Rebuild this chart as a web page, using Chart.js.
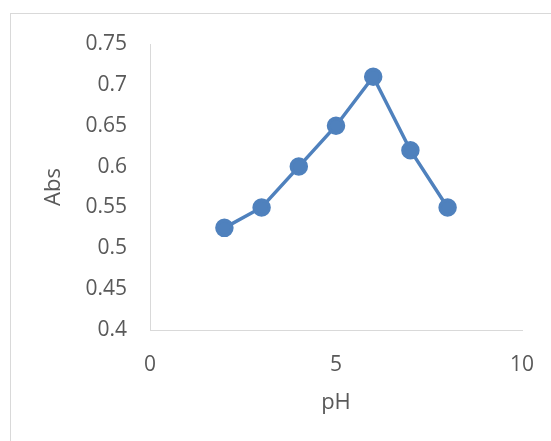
<!DOCTYPE html>
<html>
<head>
<meta charset="utf-8">
<script src="https://cdn.jsdelivr.net/npm/chart.js@4"></script>
<style>
  html, body { margin: 0; padding: 0; background: #fff; }
  #wrap { position: relative; width: 551px; height: 441px; overflow: hidden; }
  #frame { position: absolute; left: 10px; top: 13px; width: 600px; height: 500px;
           border-left: 1px solid #d9d9d9; border-top: 1px solid #d9d9d9; }
  #chart { position: absolute; left: 0; top: 0; }
</style>
</head>
<body>
<div id="wrap">
  <div id="frame"></div>
  <canvas id="chart" width="551" height="441"></canvas>
</div>
<script>
  // datos
  const valoresPH = [2, 3, 4, 5, 6, 7, 8];
  const valoresAbs = [0.525, 0.55, 0.6, 0.65, 0.71, 0.62, 0.55];
  const ticksX = [0, 5, 10];
  const ticksY = [0.4, 0.45, 0.5, 0.55, 0.6, 0.65, 0.7, 0.75];

  const colorSerie = '#4f81bd';
  const colorTexto = '#595959';
  const colorEje = '#d9d9d9';
  const fuente = '"Open Sans", sans-serif';

  const puntos = valoresPH.map((x, i) => ({ x: x, y: valoresAbs[i] }));

  new Chart(document.getElementById('chart'), {
    type: 'scatter',
    data: {
      datasets: [{
        label: 'Abs',
        data: puntos,
        showLine: true,
        borderColor: colorSerie,
        backgroundColor: colorSerie,
        borderWidth: 3.5,
        pointRadius: 7.5,
        pointHoverRadius: 7.5
      }]
    },
    options: {
      responsive: false,
      animation: false,
      layout: { padding: { left: 0, top: 44, right: 29, bottom: 0 } },
      plugins: { legend: { display: false }, tooltip: { enabled: false } },
      scales: {
        x: {
          type: 'linear',
          min: 0,
          max: 10,
          afterBuildTicks: axis => { axis.ticks = ticksX.map(v => ({ value: v })); },
          afterFit: axis => { axis.height = 111; axis.paddingLeft = 0; axis.paddingRight = 0; },
          grid: { display: false, drawTicks: false },
          border: { display: true, color: colorEje, width: 1 },
          ticks: { color: colorTexto, padding: 22, font: { family: fuente, size: 21 } },
          title: { display: true, text: 'pH', color: colorTexto,
                   font: { family: fuente, size: 22 }, padding: { top: 25, bottom: 25 } }
        },
        y: {
          type: 'linear',
          min: 0.4,
          max: 0.75,
          afterBuildTicks: axis => { axis.ticks = ticksY.map(v => ({ value: v })); },
          afterFit: axis => { axis.width = 150; },
          grid: { display: false, drawTicks: false },
          border: { display: true, color: colorEje, width: 1 },
          ticks: { color: colorTexto, padding: 23, font: { family: fuente, size: 21 },
                   callback: v => String(parseFloat(v.toFixed(2))) },
          title: { display: true, text: 'Abs', color: colorTexto,
                   font: { family: fuente, size: 22 }, padding: { top: 41, bottom: 41 } }
        }
      }
    }
  });
</script>
</body>
</html>
